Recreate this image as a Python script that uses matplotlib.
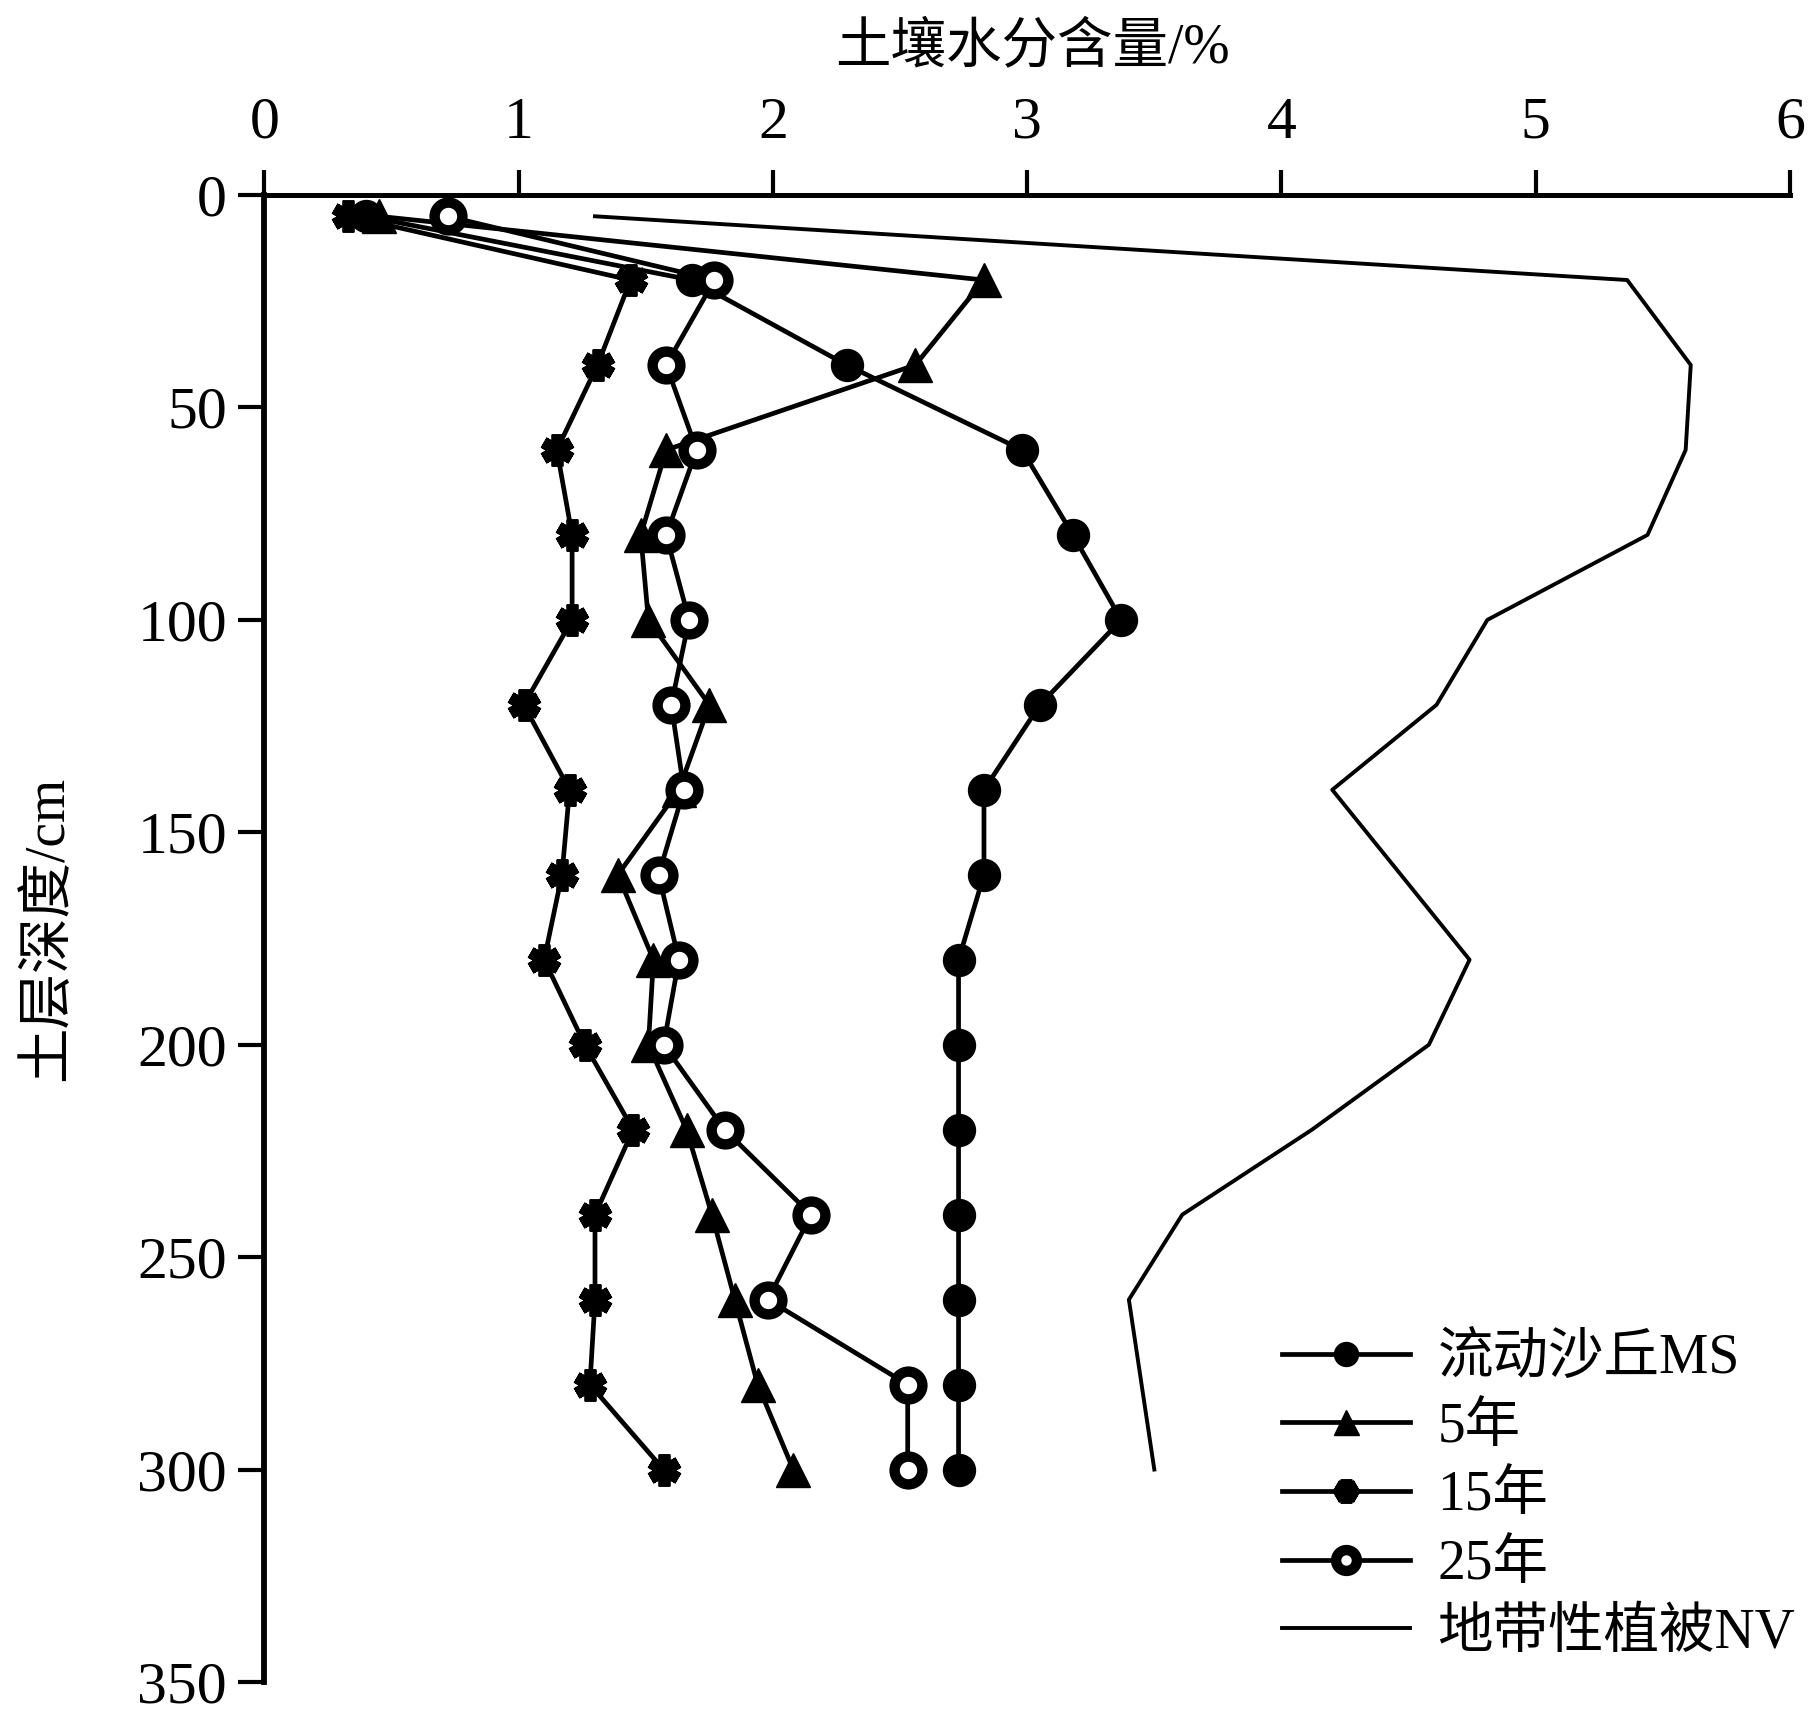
import matplotlib
matplotlib.use("Agg")
import matplotlib.pyplot as plt

plt.rcParams['font.family'] = ['Liberation Serif', 'Noto Sans CJK SC']

depth = [5, 20, 40, 60, 80, 100, 120, 140, 160, 180, 200, 220, 240, 260, 280, 300]
ms = [0.40, 1.68, 2.29, 2.98, 3.18, 3.37, 3.05, 2.83, 2.83, 2.73, 2.73, 2.73, 2.73, 2.73, 2.73, 2.73]
y5 = [0.45, 2.83, 2.56, 1.58, 1.48, 1.51, 1.75, 1.63, 1.39, 1.53, 1.51, 1.66, 1.76, 1.85, 1.94, 2.08]
y15 = [0.33, 1.44, 1.31, 1.15, 1.21, 1.21, 1.02, 1.20, 1.17, 1.10, 1.26, 1.45, 1.30, 1.30, 1.28, 1.57]
y25 = [0.72, 1.77, 1.58, 1.70, 1.58, 1.67, 1.60, 1.65, 1.55, 1.63, 1.57, 1.81, 2.15, 1.98, 2.53, 2.53]
nv = [1.30, 5.36, 5.61, 5.59, 5.44, 4.81, 4.61, 4.20, 4.47, 4.74, 4.58, 4.12, 3.61, 3.40, 3.45, 3.50]

labels = ['流动沙丘MS', '5年', '15年', '25年', '地带性植被NV']

fig = plt.figure(figsize=(18.19, 17.17), dpi=100)
ax = fig.add_axes([0.1454, 0.0204, 0.8386, 0.866])

lw = 3.4
ax.plot(ms, depth, color='black', lw=lw, marker='o', ms=23, label=labels[0])
ax.plot(y5, depth, color='black', lw=lw, marker='^', ms=24, label=labels[1])
ax.plot(y15, depth, color='black', lw=lw, marker=(6, 2, 0), ms=23, mew=8.5, label=labels[2])
ax.plot(y25, depth, color='black', lw=lw, marker='o', ms=20, mfc='white', mew=7.5, label=labels[3])
ax.plot(nv, depth, color='black', lw=2.8, label=labels[4])

ax.set_xlim(0, 6)
ax.set_ylim(350, 0)
ax.set_xticks(range(0, 7))
ax.set_yticks(range(0, 351, 50))
ax.xaxis.tick_top()
ax.spines['right'].set_visible(False)
ax.spines['bottom'].set_visible(False)
ax.spines['top'].set_linewidth(3.6)
ax.spines['left'].set_linewidth(4.2)
ax.tick_params(axis='x', direction='out', length=18, width=3, labelsize=43, pad=14)
ax.tick_params(axis='y', direction='out', length=19, width=3, labelsize=43, pad=8)
for t in ax.get_xticklabels() + ax.get_yticklabels():
    t.set_fontfamily('Liberation Serif')

fig.text(1032 / 1819, 1 - 48 / 1717, '土壤水分含量/%', fontsize=40,
         ha='center', va='center')
fig.text(48 / 1819, 1 - 928 / 1717, '土层深度/cm', fontsize=40,
         ha='center', va='center', rotation=90)

ax.legend(loc='upper left', bbox_to_anchor=(1282 / 1819, 1 - 1333 / 1717),
          bbox_transform=fig.transFigure, frameon=False, fontsize=40,
          handlelength=2.3, handletextpad=0.5, labelspacing=0.3,
          borderpad=0, borderaxespad=0, markerscale=0.75)

fig.savefig('out.png', dpi=100)
